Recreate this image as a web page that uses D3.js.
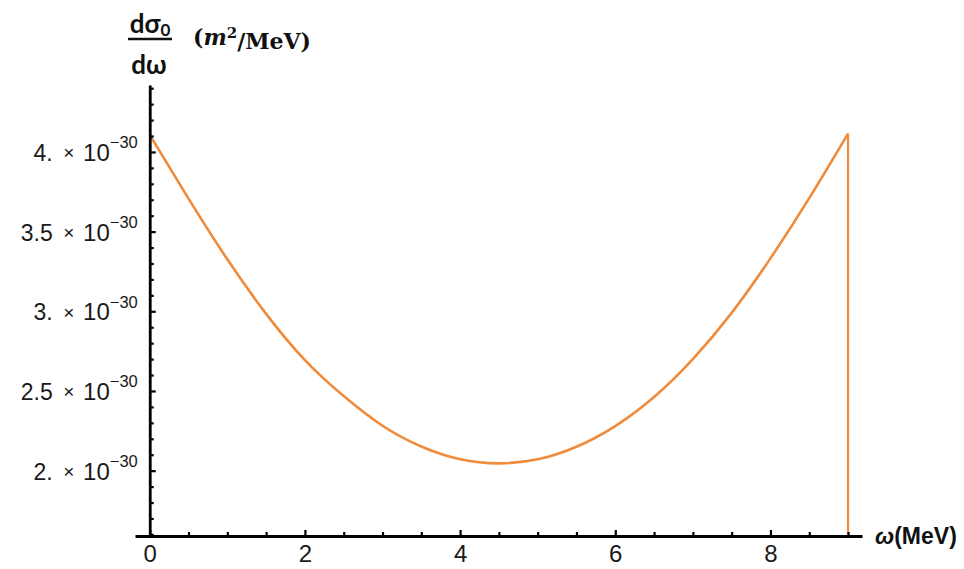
<!DOCTYPE html>
<html>
<head>
<meta charset="utf-8">
<script src="https://cdn.jsdelivr.net/npm/d3@7"></script>
<style>
  body { margin: 0; background: #fff; }
  svg { display: block; }
</style>
</head>
<body>
<script>
// photon energy (MeV) and d(sigma0)/d(omega) in units of 1e-30 m^2/MeV
const omega = [0, 0.5, 1, 1.5, 2, 2.5, 3, 3.5, 4, 4.5, 5, 5.5, 6, 6.5, 7, 7.5, 8, 8.5, 9];
const sigma = [4.107, 3.707, 3.326, 2.984, 2.694, 2.468, 2.282, 2.152, 2.072, 2.046,
               2.071, 2.150, 2.280, 2.462, 2.700, 2.990, 3.332, 3.710, 4.115];

const xMajorTicks = [0, 2, 4, 6, 8];
const xMinorTicks = [0.5, 1, 1.5, 2.5, 3, 3.5, 4.5, 5, 5.5, 6.5, 7, 7.5, 8.5, 9];
const yMajorTicks = [2, 2.5, 3, 3.5, 4];
const yTickLabels = ["2.", "2.5", "3.", "3.5", "4."];
const yMinorTicks = [1.6, 1.7, 1.8, 1.9, 2.1, 2.2, 2.3, 2.4, 2.6, 2.7, 2.8, 2.9,
                     3.1, 3.2, 3.3, 3.4, 3.6, 3.7, 3.8, 3.9, 4.1, 4.2, 4.3, 4.4];

const width = 964, height = 569;
const lineColor = "#ef8b3b";
const sans = "'Liberation Sans', Arial, sans-serif";

const svg = d3.select("body").append("svg")
    .attr("width", width)
    .attr("height", height);

const x = d3.scaleLinear().domain([-0.19, 9.18]).range([135, 862]);
const y = d3.scaleLinear().domain([1.59, 4.42]).range([536, 85]);

// curve
const data = omega.map((w, i) => ({ w: w, s: sigma[i] }));

const line = d3.line()
    .x(d => x(d.w))
    .y(d => y(d.s))
    .curve(d3.curveNatural);

svg.append("path")
    .datum(data)
    .attr("fill", "none")
    .attr("stroke", lineColor)
    .attr("stroke-width", 2.6)
    .attr("stroke-linejoin", "round")
    .attr("d", line);

// sharp cut-off at the end point
const last = data[data.length - 1];
svg.append("line")
    .attr("x1", x(last.w)).attr("x2", x(last.w))
    .attr("y1", y(last.s)).attr("y2", y.range()[0])
    .attr("stroke", lineColor)
    .attr("stroke-width", 2.2);

// x axis (ticks point up into the plot)
const xAxisG = svg.append("g")
    .attr("transform", `translate(0,${y.range()[0]})`);

xAxisG.append("g")
    .call(d3.axisBottom(x).tickValues(xMinorTicks).tickSize(-4).tickFormat(""))
    .call(g => g.select(".domain").remove())
    .selectAll("line").attr("stroke", "#000").attr("stroke-width", 2.2);

xAxisG.append("g")
    .call(d3.axisBottom(x).tickValues(xMajorTicks).tickSizeInner(-6).tickSizeOuter(0).tickPadding(9))
    .call(g => g.select(".domain").attr("stroke", "#000").attr("stroke-width", 3.2))
    .call(g => g.selectAll("line").attr("stroke", "#000").attr("stroke-width", 2.2))
    .call(g => g.selectAll("text")
        .attr("fill", "#1a1a1a")
        .style("font-family", sans)
        .style("font-size", "24px"));

// y axis (ticks point right into the plot)
const yAxisG = svg.append("g")
    .attr("transform", `translate(${x(0)},0)`);

yAxisG.append("g")
    .call(d3.axisLeft(y).tickValues(yMinorTicks).tickSize(-4).tickFormat(""))
    .call(g => g.select(".domain").remove())
    .selectAll("line").attr("stroke", "#000").attr("stroke-width", 2.2);

yAxisG.append("g")
    .call(d3.axisLeft(y).tickValues(yMajorTicks).tickSizeInner(-6).tickSizeOuter(0).tickFormat(""))
    .call(g => g.select(".domain").attr("stroke", "#000").attr("stroke-width", 2.8))
    .call(g => g.selectAll("line").attr("stroke", "#000").attr("stroke-width", 2.2))
    .call(g => g.selectAll(".tick").each(function(d, i) {
        const tick = d3.select(this);
        const lab = tick.append("g")
            .attr("fill", "#1a1a1a")
            .style("font-family", sans);
        lab.append("text")
            .attr("x", -97).attr("y", 8.5)
            .attr("text-anchor", "end")
            .style("font-size", "23px")
            .text(yTickLabels[i]);
        lab.append("text")
            .attr("x", -81).attr("y", 7)
            .attr("text-anchor", "middle")
            .style("font-size", "19px")
            .text("×");
        lab.append("text")
            .attr("x", -40).attr("y", 8.5)
            .attr("text-anchor", "end")
            .style("font-size", "24px")
            .text("10");
        lab.append("text")
            .attr("x", -40).attr("y", -4)
            .attr("text-anchor", "start")
            .style("font-size", "16.5px")
            .text("−30");
    }));

// x axis title
svg.append("text")
    .attr("x", 875)
    .attr("y", 544)
    .style("font-family", sans)
    .style("font-size", "23px")
    .style("font-weight", "bold")
    .attr("fill", "#111")
    .call(t => {
        t.append("tspan").text("ω").style("font-style", "italic");
        t.append("tspan").text("(MeV)");
    });

// y axis title: d(sigma0)/d(omega) (m^2/MeV)
const yTitle = svg.append("g");

yTitle.append("text")
    .attr("x", 150)
    .attr("y", 33)
    .attr("text-anchor", "middle")
    .style("font-family", "Lato, 'Open Sans', sans-serif")
    .style("font-size", "26px")
    .style("font-weight", "bold")
    .attr("fill", "#111")
    .call(t => {
        t.append("tspan").text("dσ");
        t.append("tspan").text("0").attr("dy", "0.2em").style("font-size", "17px");
    });

yTitle.append("line")
    .attr("x1", 128).attr("x2", 172)
    .attr("y1", 39).attr("y2", 39)
    .attr("stroke", "#111")
    .attr("stroke-width", 2.6);

yTitle.append("text")
    .attr("x", 149)
    .attr("y", 74)
    .attr("text-anchor", "middle")
    .style("font-family", "Lato, 'Open Sans', sans-serif")
    .style("font-size", "26px")
    .style("font-weight", "bold")
    .attr("fill", "#111")
    .text("dω");

yTitle.append("text")
    .attr("x", 193)
    .attr("y", 45)
    .style("font-family", "'DejaVu Serif', 'Liberation Serif', serif")
    .style("font-size", "22px")
    .style("font-weight", "bold")
    .attr("fill", "#111")
    .call(t => {
        t.append("tspan").text("(");
        t.append("tspan").text("m").style("font-style", "italic");
        t.append("tspan").text("2").attr("dy", "-0.5em").style("font-size", "15px");
        t.append("tspan").text("/MeV)").attr("dy", "0.5em");
    });
</script>
</body>
</html>
